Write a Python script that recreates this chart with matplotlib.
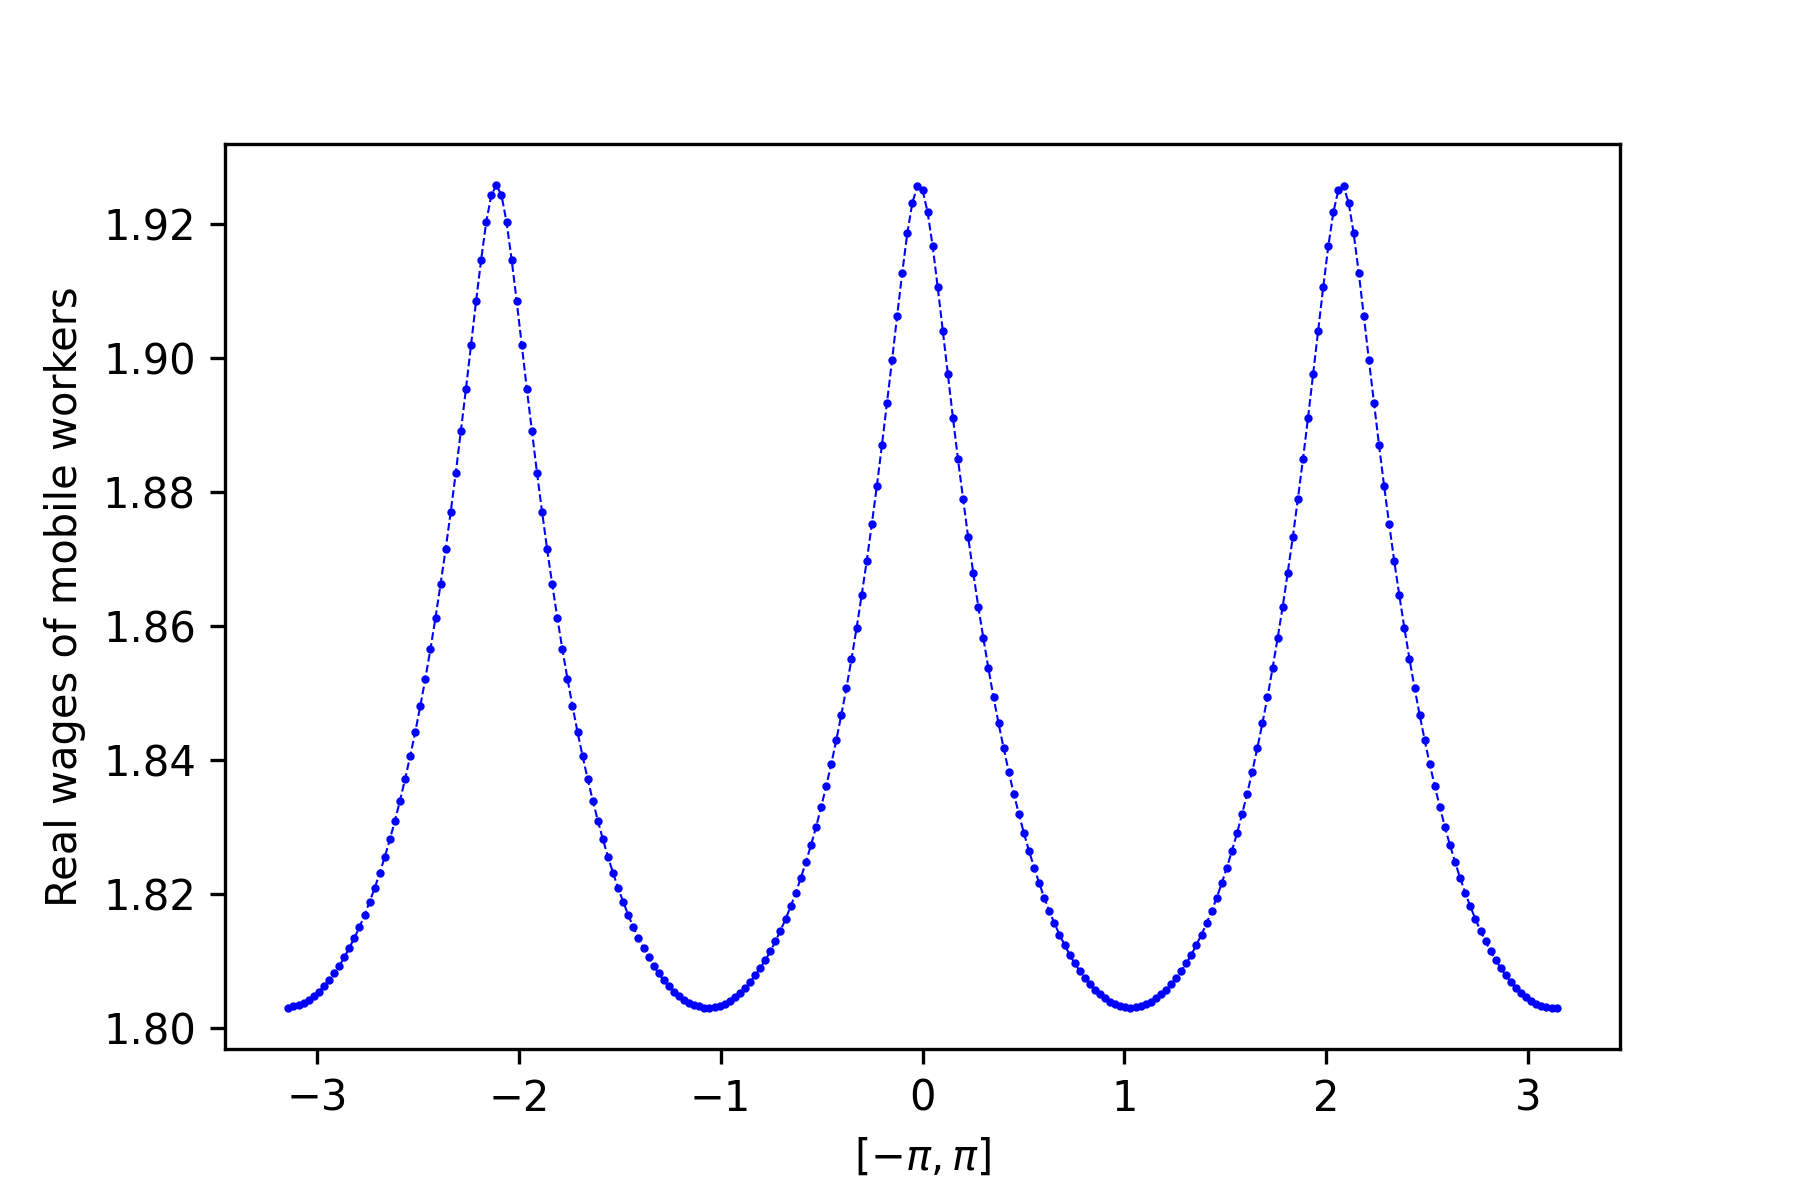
import numpy as np
import matplotlib
matplotlib.use('Agg')
import matplotlib.pyplot as plt

# x grid: 251 evenly spaced points on [-pi, pi]
n_points = 251
x_min, x_max = -np.pi, np.pi

# Real wages of mobile workers
wages = [
    1.8031, 1.8033, 1.8035, 1.8038, 1.8043, 1.8049, 1.8055, 1.8063, 1.8072, 1.8082,
    1.8093, 1.8106, 1.8120, 1.8135, 1.8151, 1.8169, 1.8189, 1.8209, 1.8232, 1.8256,
    1.8282, 1.8310, 1.8340, 1.8372, 1.8406, 1.8442, 1.8481, 1.8522, 1.8566, 1.8613,
    1.8663, 1.8715, 1.8771, 1.8829, 1.8891, 1.8954, 1.9019, 1.9085, 1.9147, 1.9203,
    1.9243, 1.9258, 1.9243, 1.9203, 1.9147, 1.9085, 1.9019, 1.8954, 1.8891, 1.8829,
    1.8771, 1.8715, 1.8663, 1.8613, 1.8566, 1.8522, 1.8481, 1.8442, 1.8406, 1.8372,
    1.8340, 1.8310, 1.8282, 1.8256, 1.8232, 1.8209, 1.8189, 1.8169, 1.8151, 1.8135,
    1.8120, 1.8106, 1.8093, 1.8082, 1.8072, 1.8063, 1.8055, 1.8049, 1.8043, 1.8038,
    1.8035, 1.8033, 1.8031, 1.8031, 1.8032, 1.8034, 1.8037, 1.8041, 1.8047, 1.8053,
    1.8060, 1.8069, 1.8079, 1.8090, 1.8102, 1.8115, 1.8130, 1.8146, 1.8163, 1.8182,
    1.8202, 1.8224, 1.8248, 1.8273, 1.8300, 1.8330, 1.8361, 1.8394, 1.8430, 1.8468,
    1.8508, 1.8551, 1.8597, 1.8646, 1.8697, 1.8752, 1.8809, 1.8870, 1.8933, 1.8997,
    1.9063, 1.9127, 1.9186, 1.9232, 1.9256, 1.9251, 1.9218, 1.9167, 1.9106, 1.9041,
    1.8976, 1.8911, 1.8849, 1.8790, 1.8733, 1.8680, 1.8629, 1.8582, 1.8537, 1.8494,
    1.8455, 1.8418, 1.8383, 1.8350, 1.8320, 1.8291, 1.8265, 1.8240, 1.8217, 1.8195,
    1.8175, 1.8157, 1.8140, 1.8125, 1.8110, 1.8097, 1.8086, 1.8075, 1.8066, 1.8058,
    1.8051, 1.8045, 1.8040, 1.8036, 1.8033, 1.8032, 1.8031, 1.8032, 1.8033, 1.8036,
    1.8040, 1.8045, 1.8051, 1.8058, 1.8066, 1.8075, 1.8086, 1.8097, 1.8110, 1.8125,
    1.8140, 1.8157, 1.8175, 1.8195, 1.8217, 1.8240, 1.8265, 1.8291, 1.8320, 1.8350,
    1.8383, 1.8418, 1.8455, 1.8494, 1.8537, 1.8582, 1.8629, 1.8680, 1.8733, 1.8790,
    1.8849, 1.8911, 1.8976, 1.9041, 1.9106, 1.9167, 1.9218, 1.9251, 1.9256, 1.9232,
    1.9186, 1.9127, 1.9063, 1.8997, 1.8933, 1.8870, 1.8809, 1.8752, 1.8697, 1.8646,
    1.8597, 1.8551, 1.8508, 1.8468, 1.8430, 1.8394, 1.8361, 1.8330, 1.8300, 1.8273,
    1.8248, 1.8224, 1.8202, 1.8182, 1.8163, 1.8146, 1.8130, 1.8115, 1.8102, 1.8090,
    1.8079, 1.8069, 1.8060, 1.8053, 1.8047, 1.8041, 1.8037, 1.8034, 1.8032, 1.8031,
    1.8031,
]

x_label = r'$[-\pi, \pi]$'
y_label = 'Real wages of mobile workers'

x = np.linspace(x_min, x_max, n_points)

fig = plt.figure(figsize=(6, 4), dpi=300)
ax = fig.add_subplot(111)
fig.subplots_adjust(left=0.125, right=0.9, top=0.88, bottom=0.126)
ax.plot(x, wages, 'bo--', linewidth=0.5, markersize=1.0, markeredgewidth=1.0)
ax.set_xlabel(x_label)
ax.set_ylabel(y_label)
fig.savefig('out.png', dpi=300)
